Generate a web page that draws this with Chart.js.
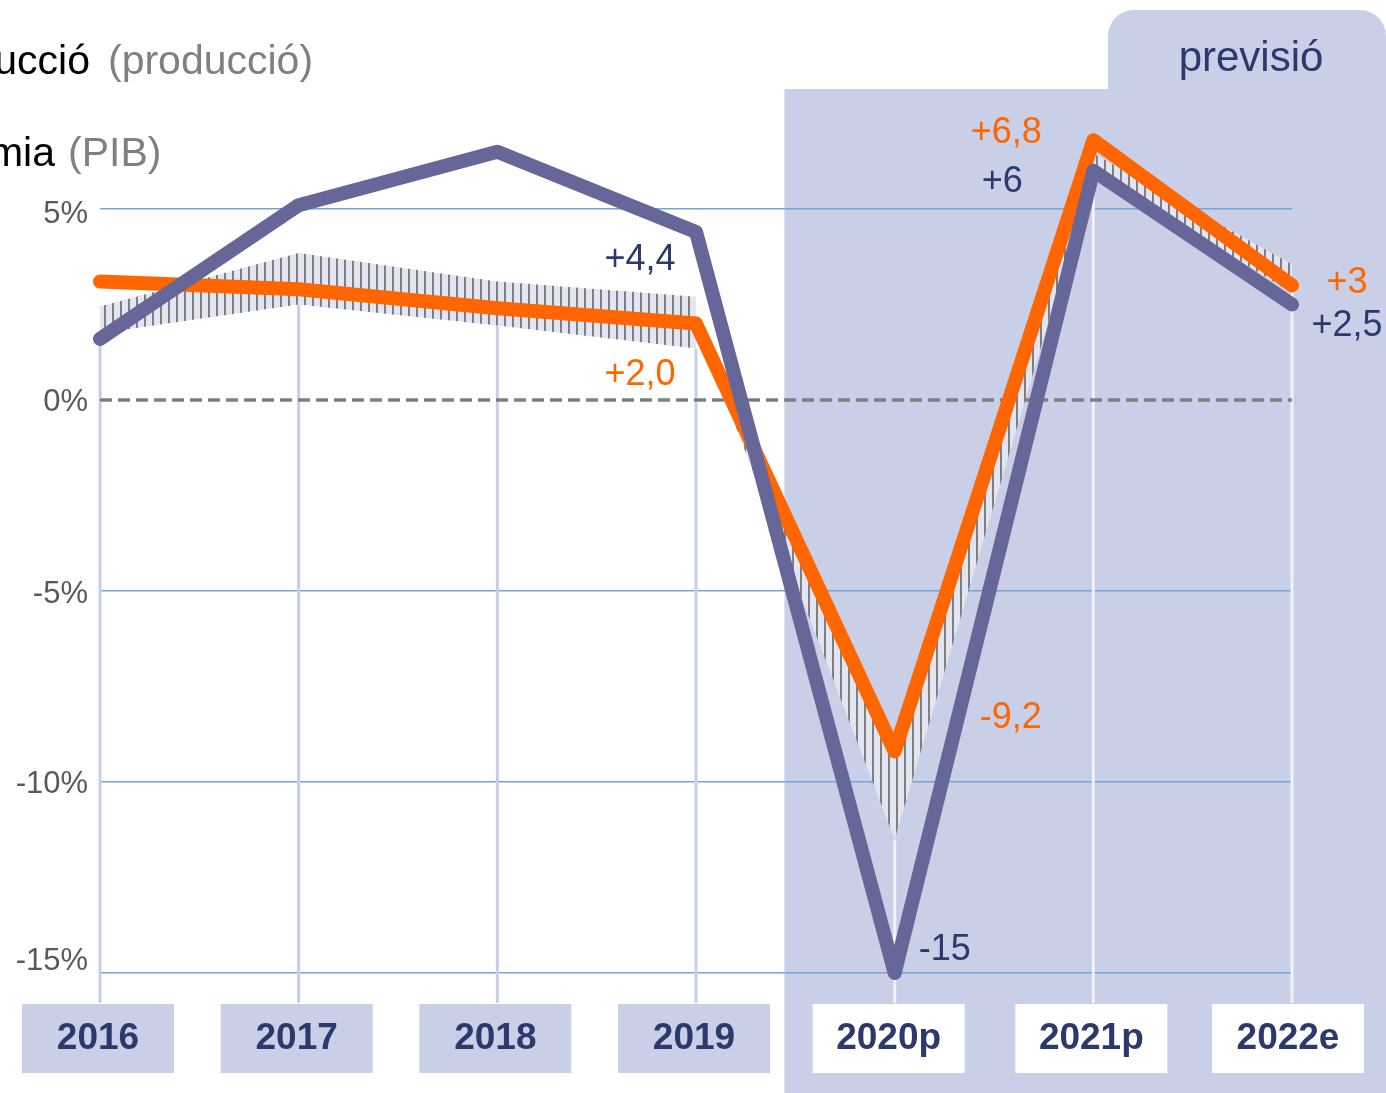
<!DOCTYPE html>
<html>
<head>
<meta charset="utf-8">
<script src="https://cdn.jsdelivr.net/npm/chart.js@4"></script>
<style>
  html, body { margin: 0; padding: 0; background: #ffffff; }
  #wrap { width: 1386px; height: 1093px; position: relative; }
</style>
</head>
<body>
<div id="wrap"><canvas id="c" width="1386" height="1093"></canvas></div>
<script>
// ---- data ----
const categories = ['2016', '2017', '2018', '2019', '2020p', '2021p', '2022e'];
const produccio = [1.6, 5.1, 6.5, 4.4, -15, 6.0, 2.5];
const pib = [3.1, 2.9, 2.4, 2.0, -9.2, 6.8, 3.0];
const histBandUpper = [2.45, 3.85, 3.1, 2.7, null, null, null];
const histBandLower = [1.75, 2.5, 1.95, 1.35, null, null, null];
const fcBandUpper = [null, null, null, 2.0, -8.9, 6.45, 3.55];
const fcBandLower = [null, null, null, 2.0, -11.5, 6.0, 2.8];
const yTicks = [5, 0, -5, -10, -15];
const produccioLabels = [null, null, null, '+4,4', '-15', '+6', '+2,5'];
const pibLabels = [null, null, null, '+2,0', '-9,2', '+6,8', '+3'];
const forecastStart = 4; // index of first forecast category

// ---- styles ----
const NAVY = '#2b3a6b';
const ORANGE = '#ff6600';
const PURPLE = '#666699';
const PANEL = '#cacfe8';
const FONT = '"Liberation Sans", Arial, sans-serif';
const produccioLabelOffsets = [null, null, null, [-56, 28], [50, -23], [-91, 11], [55, 22]];
const pibLabelOffsets = [null, null, null, [-56, 51], [116, -33], [-87, -7], [55, -2]];
const yTickLabelDy = [5, 2, 3, 2, -12];
const boxDx = [-2, -2, -2, -2, -6, -2, -4];

const ctx = document.getElementById('c').getContext('2d');

// hatch pattern for the band
const pc = document.createElement('canvas');
pc.width = 8; pc.height = 8;
const pg = pc.getContext('2d');
pg.fillStyle = '#e3e5f3';
pg.fillRect(0, 0, 8, 8);
pg.fillStyle = '#7f7f7f';
pg.fillRect(0, 0, 2, 8);
const hatch = ctx.createPattern(pc, 'repeat');

function panelLeft(chart) {
  const xs = chart.scales.x;
  const a = xs.getPixelForValue(forecastStart - 1);
  const b = xs.getPixelForValue(forecastStart);
  return a + 0.445 * (b - a);
}

const decor = {
  id: 'decor',
  beforeDraw(chart) {
    const c = chart.ctx;
    const W = chart.width, H = chart.height;
    c.save();
    c.fillStyle = '#ffffff';
    c.fillRect(0, 0, W, H);
    // forecast panel with tab
    const pl = panelLeft(chart);
    const tabL = 1108, tabT = 10, bodyT = 89, r = 26;
    c.fillStyle = PANEL;
    c.beginPath();
    c.moveTo(pl, H);
    c.lineTo(pl, bodyT);
    c.lineTo(tabL, bodyT);
    c.lineTo(tabL, tabT + r);
    c.arcTo(tabL, tabT, tabL + r, tabT, r);
    c.lineTo(W - r, tabT);
    c.arcTo(W, tabT, W, tabT + r, r);
    c.lineTo(W, H);
    c.closePath();
    c.fill();
    c.fillStyle = NAVY;
    c.font = '42px ' + FONT;
    c.textAlign = 'center';
    c.textBaseline = 'alphabetic';
    c.fillText('previsió', 1251, 71);
    // legend texts (cut off at the left)
    c.font = '41px ' + FONT;
    c.textAlign = 'right';
    c.fillStyle = '#000000';
    c.fillText('Construcció', 90, 74);
    c.fillText('Economia', 55, 166);
    c.fillText('Creixement anual (%)', 7, -4);
    c.textAlign = 'left';
    c.fillStyle = '#808080';
    c.fillText('(producció)', 108, 74);
    c.fillText('(PIB)', 68, 166);
    c.restore();
  },
  beforeDatasetsDraw(chart) {
    const c = chart.ctx;
    const xs = chart.scales.x, ys = chart.scales.y;
    const pl = panelLeft(chart);
    c.save();
    // vertical drop lines
    c.lineWidth = 3;
    categories.forEach((cat, i) => {
      const x = xs.getPixelForValue(i);
      const lows = [histBandLower[i], fcBandLower[i]].filter(v => v !== null);
      const yTop = ys.getPixelForValue(Math.min(...lows));
      c.strokeStyle = x > pl ? '#f1f1f6' : '#c9cee6';
      c.beginPath();
      c.moveTo(x, yTop);
      c.lineTo(x, 1003);
      c.stroke();
    });
    // dashed zero line
    const y0 = ys.getPixelForValue(0);
    c.strokeStyle = '#7f7f7f';
    c.lineWidth = 3.5;
    c.setLineDash([12, 6]);
    c.beginPath();
    c.moveTo(chart.chartArea.left, y0);
    c.lineTo(chart.chartArea.right, y0);
    c.stroke();
    c.restore();
  },
  afterDraw(chart) {
    const c = chart.ctx;
    const xs = chart.scales.x, ys = chart.scales.y;
    c.save();
    // y tick labels
    c.font = '31px ' + FONT;
    c.fillStyle = '#595959';
    c.textAlign = 'right';
    c.textBaseline = 'middle';
    yTicks.forEach((v, i) => {
      c.fillText(v + '%', chart.chartArea.left - 12, ys.getPixelForValue(v) + yTickLabelDy[i]);
    });
    // category label boxes
    categories.forEach((cat, i) => {
      const x = xs.getPixelForValue(i) + boxDx[i];
      c.fillStyle = i >= forecastStart ? '#ffffff' : PANEL;
      c.fillRect(x - 76, 1004, 152, 69);
      c.fillStyle = NAVY;
      c.font = 'bold 37px ' + FONT;
      c.textAlign = 'center';
      c.textBaseline = 'middle';
      c.fillText(cat, x, 1039);
    });
    // value labels
    c.font = '36px ' + FONT;
    c.textAlign = 'center';
    c.textBaseline = 'middle';
    const drawLabels = (labels, values, offsets, color) => {
      labels.forEach((t, i) => {
        if (!t) return;
        const x = xs.getPixelForValue(i) + offsets[i][0];
        const y = ys.getPixelForValue(values[i]) + offsets[i][1];
        c.fillStyle = color;
        c.fillText(t, x, y);
      });
    };
    drawLabels(produccioLabels, produccio, produccioLabelOffsets, NAVY);
    drawLabels(pibLabels, pib, pibLabelOffsets, ORANGE);
    c.restore();
  }
};

const lineStyle = { borderWidth: 14, borderCapStyle: 'round', borderJoinStyle: 'round', pointRadius: 0, fill: false, tension: 0 };
const bandStyle = { borderColor: 'rgba(0,0,0,0)', borderWidth: 0, pointRadius: 0, tension: 0, spanGaps: false };

new Chart(ctx, {
  type: 'line',
  data: {
    labels: categories,
    datasets: [
      Object.assign({ label: 'Producció', data: produccio, borderColor: PURPLE, order: 0 }, lineStyle),
      Object.assign({ label: 'PIB', data: pib, borderColor: ORANGE, order: 1 }, lineStyle),
      Object.assign({ label: 'banda històrica sup', data: histBandUpper, backgroundColor: hatch, fill: '+1', order: 3 }, bandStyle),
      Object.assign({ label: 'banda històrica inf', data: histBandLower, fill: false, order: 4 }, bandStyle),
      Object.assign({ label: 'banda previsió sup', data: fcBandUpper, backgroundColor: hatch, fill: '+1', order: 5 }, bandStyle),
      Object.assign({ label: 'banda previsió inf', data: fcBandLower, fill: false, order: 6 }, bandStyle)
    ]
  },
  options: {
    responsive: true,
    maintainAspectRatio: false,
    animation: false,
    events: [],
    layout: { padding: { top: 94.4, bottom: 81.8, left: 0, right: 94 } },
    plugins: { legend: { display: false }, tooltip: { enabled: false } },
    scales: {
      x: { type: 'category', display: false, offset: false },
      y: {
        min: -16,
        max: 8,
        afterBuildTicks: (s) => { s.ticks = yTicks.map(v => ({ value: v })); },
        afterFit: (s) => { s.width = 100; },
        border: { display: false },
        grid: {
          drawTicks: false,
          lineWidth: 1.5,
          color: (c) => (c.tick && c.tick.value === 0) ? 'rgba(0,0,0,0)' : '#72a5da'
        },
        ticks: { display: false }
      }
    }
  },
  plugins: [decor]
});
</script>
</body>
</html>
